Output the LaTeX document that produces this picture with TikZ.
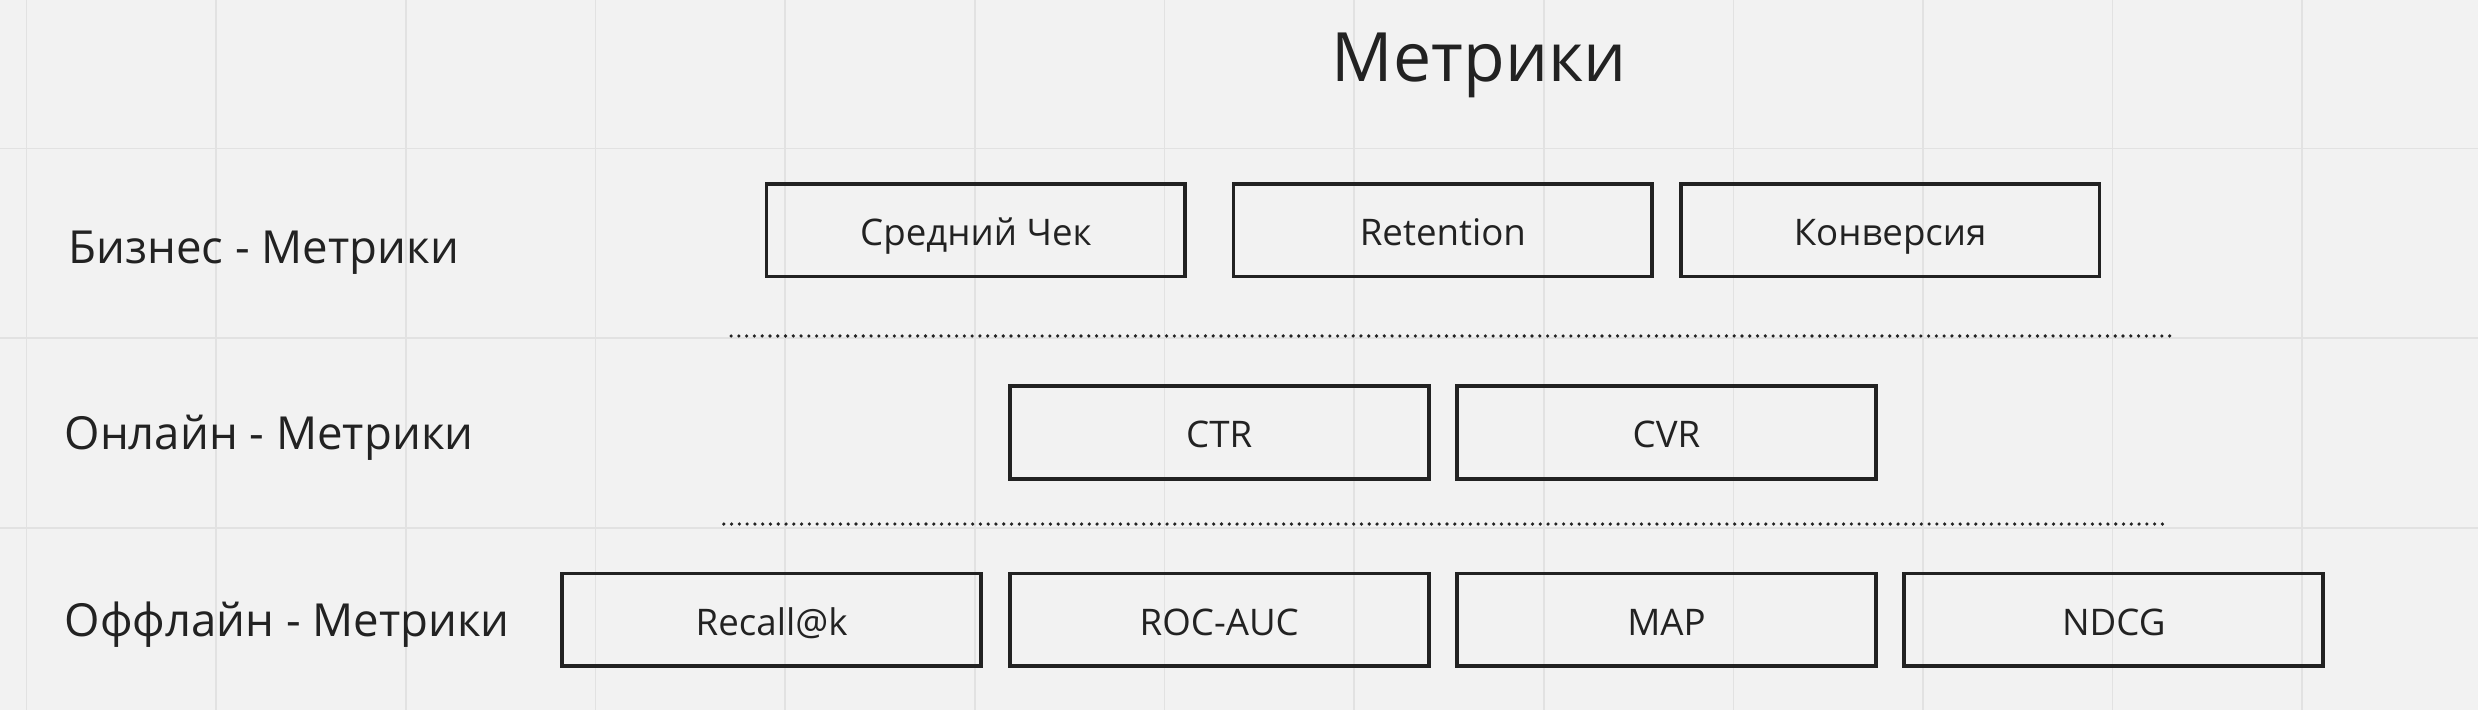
\documentclass[tikz,border=0pt]{standalone}
\usepackage{fontspec}
\setmainfont{Open Sans}
\usetikzlibrary{positioning}
\definecolor{bgColor}{HTML}{F2F2F2}
\definecolor{gridColor}{HTML}{E2E2E2}
\definecolor{inkColor}{HTML}{222222}
\tikzset{
	metric/.style={draw=inkColor, line width=1.35pt, minimum width=5.3cm, minimum height=1.17cm,
		inner sep=0, text=inkColor, font=\fontsize{13.2}{16}\selectfont, text height=14pt, text depth=3pt},
	layerlabel/.style={anchor=base west, inner sep=0, text=inkColor, font=\fontsize{16.4}{20}\selectfont},
	gridline/.style={draw=gridColor, line width=0.6pt},
	dotline/.style={draw=inkColor, line width=1.3pt, line cap=round, dash pattern=on 0pt off 2.8pt}
}

\begin{document}
\begin{tikzpicture}
	\fill[bgColor] (0,0) rectangle (31.36,8.98);
	\useasboundingbox (0,0) rectangle (31.36,8.98);
	\foreach \gx in {0,...,12}
		\draw[gridline] ({0.336+2.4*\gx},0) -- ({0.336+2.4*\gx},8.98);
	\foreach \gy in {2.3,4.7,7.1}
		\draw[gridline] (0,\gy) -- (31.36,\gy);
	
	\node[anchor=base, inner sep=0, text=inkColor, font=\fontsize{24.5}{30}\selectfont] (title) at (18.72, 7.954) {Метрики};
	
	\node[layerlabel] (business) at (0.86, 5.648) {Бизнес - Метрики};
	\node[layerlabel] (online) at (0.81, 3.288) {Онлайн - Метрики};
	\node[layerlabel] (offline) at (0.81, 0.92) {Оффлайн - Метрики};
	
	\node[metric] (avgcheck) at (12.35, 6.065) {Средний Чек};
	\node[metric] (retention) at (18.26, 6.065) {Retention};
	\node[metric] (conversion) at (23.92, 6.065) {Конверсия};
	
	\node[metric] (ctr) at (15.43, 3.506) {CTR};
	\node[metric] (cvr) at (21.09, 3.506) {CVR};
	
	\node[metric] (recall) at (9.765, 1.136) {Recall@k};
	\node[metric] (rocauc) at (15.43, 1.136) {ROC-AUC};
	\node[metric] (map) at (21.09, 1.136) {MAP};
	\node[metric] (ndcg) at (26.75, 1.136) {NDCG};
	
	%\draw[dotline] (business.east) -- (conversion.east);
	\coordinate (bizsepL) at (9.252, 4.728);
	\coordinate (bizsepR) at (27.476, 4.728);
	\coordinate (onsepL) at (9.16, 2.348);
	\coordinate (onsepR) at (27.38, 2.348);
	\draw[dotline] (bizsepL) -- (bizsepR);
	\draw[dotline] (onsepL) -- (onsepR);
\end{tikzpicture}
\end{document}
